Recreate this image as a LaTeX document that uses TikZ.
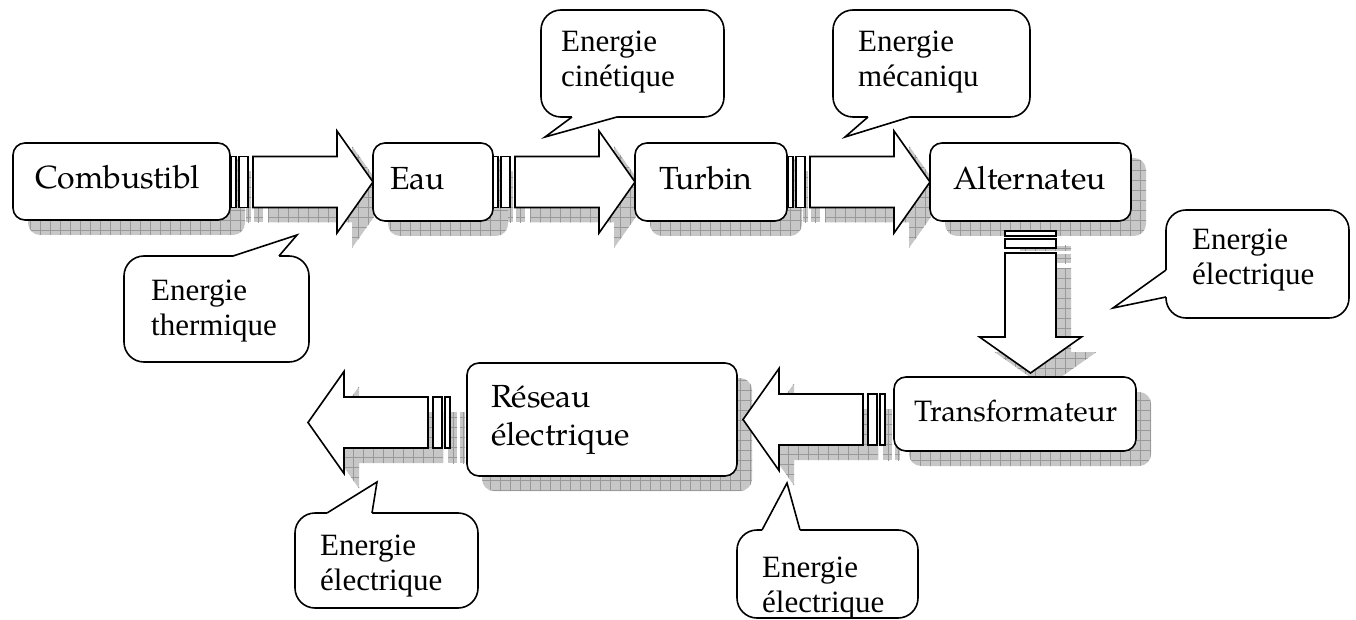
\documentclass[tikz,border=0pt]{standalone}
\usepackage{fontspec}
\setmainfont{TeX Gyre Pagella}
\newfontfamily\tms{Liberation Serif}
\pgfdeclarelayer{shadow}
\pgfsetlayers{shadow,main}
\tikzset{
 boxstyle/.style={draw, fill=white, line width=1.6pt, rounded corners=12pt, align=left,
   inner ysep=0pt, outer sep=0pt, font=\fontsize{32}{38}\selectfont},
 arrowshape/.style={draw, fill=white, line width=1.6pt, line join=miter},
 shfill/.style={fill=black!22},
 shgrid/.style={draw=black!40, line width=0.7pt, step=10pt},
 callbox/.style={draw, fill=white, line width=1.6pt, rounded corners=20pt},
 calltail/.style={draw, line width=1.6pt, line join=miter},
 tailfill/.style={fill=white},
 ctext/.style={anchor=base west, inner sep=0pt, text width=175pt, align=left,
   font=\tms\fontsize{31}{35}\selectfont},
}
\newcommand{\arrowparts}[1]{%
 #1{(-36,51) -- (0,0) -- (-36,-51) -- (-36,-25.5) -- (-120,-25.5) -- (-120,25.5) -- (-36,25.5) -- cycle}%
 #1{(-134,-25.5) rectangle (-125,25.5)}%
 #1{(-142,-25.5) rectangle (-137,25.5)}}
\newcommand{\drawpart}[1]{\path[arrowshape] #1;}
\newcommand{\shadowpart}[1]{\fill[shfill] #1; \begin{scope}\clip #1; \draw[shgrid] (-160,-70) grid (20,70);\end{scope}}
\newcommand{\blockarrow}[2]{\begin{scope}[shift={#1}, rotate=#2]\arrowparts\drawpart\end{scope}}
\newcommand{\blockshadow}[2]{\begin{scope}[shift={#1}, rotate=#2]\arrowparts\shadowpart\end{scope}}
\newcommand{\boxshadow}[1]{%
 \fill[shfill, rounded corners=12pt] ([shift={(15,15)}]#1.south west) rectangle ([shift={(15,15)}]#1.north east);
 \begin{scope}\clip[rounded corners=12pt] ([shift={(15,15)}]#1.south west) rectangle ([shift={(15,15)}]#1.north east);
 \draw[shgrid] (0,0) grid (1400,700);\end{scope}}
\begin{document}
\begin{tikzpicture}[x=1pt, y=-1pt]
\useasboundingbox (0,0) rectangle (1356,620);
% boxes
\node[boxstyle, minimum width=217pt, minimum height=77pt, inner xsep=22pt, text width=173pt,
  text height=22pt, text depth=7pt] (comb) at (121.5,181.5) {Combustibl};
\node[boxstyle, minimum width=120pt, minimum height=78pt, inner xsep=17pt, text width=86pt,
  text height=22pt, text depth=7pt] (eau) at (433,182) {Eau};
\node[boxstyle, minimum width=152pt, minimum height=78pt, inner xsep=24pt, text width=104pt,
  text height=22pt, text depth=7pt] (turb) at (711,182) {Turbin};
\node[boxstyle, minimum width=201pt, minimum height=78pt, inner xsep=23pt, text width=155pt,
  text height=22pt, text depth=7pt] (alt) at (1030.5,182) {Alternateu};
\node[boxstyle, minimum width=242pt, minimum height=74pt, inner xsep=20pt, text width=202pt,
  text height=22pt, text depth=7pt, font=\fontsize{29.5}{35}\selectfont] (trans) at (1015,414) {Transformateur};
\node[boxstyle, minimum width=270pt, minimum height=113pt, inner xsep=24pt, text width=222pt]
  (res) at (602,419.5) {Réseau\\électrique};
% shadows
\begin{pgfonlayer}{shadow}
\boxshadow{comb}\boxshadow{eau}\boxshadow{turb}\boxshadow{alt}\boxshadow{trans}\boxshadow{res}
\blockshadow{([shift={(15,15)}]eau.west)}{0}
\blockshadow{([shift={(15,15)}]turb.west)}{0}
\blockshadow{([shift={(15,15)}]alt.west)}{0}
\blockshadow{([shift={(15,167)}]alt.south)}{-90}
\blockshadow{([shift={(21,15)}]res.east)}{180}
\blockshadow{([shift={(-144,18)}]res.west)}{180}
\end{pgfonlayer}
% block arrows
\blockarrow{(eau.west)}{0}
\blockarrow{(turb.west)}{0}
\blockarrow{(alt.west)}{0}
\blockarrow{([shift={(0,152)}]alt.south)}{-90}
\blockarrow{([shift={(6,0)}]res.east)}{180}
\blockarrow{([shift={(-159,3)}]res.west)}{180}
% callout 1 thermique
\draw[callbox] (124,256) rectangle (309,362);
\fill[tailfill] (233,256) -- (297,235) -- (279,256) -- (279,260) -- (233,260) -- cycle;
\draw[calltail] (233,256) -- (297,235) -- (279,256);
\node[ctext] (c1) at (151,300) {Energie\\thermique};
% callout 2 cinetique
\draw[callbox] (541,10) rectangle (724,117);
\fill[tailfill] (617,117) -- (545,137) -- (572,117) -- (572,113) -- (617,113) -- cycle;
\draw[calltail] (617,117) -- (545,137) -- (572,117);
\node[ctext] (c2) at (561,52) {Energie\\cinétique};
% callout 3 mecanique
\draw[callbox] (833,10) rectangle (1030,117);
\fill[tailfill] (910,117) -- (845,137) -- (868,117) -- (868,113) -- (910,113) -- cycle;
\draw[calltail] (910,117) -- (845,137) -- (868,117);
\node[ctext] (c3) at (858,52) {Energie\\mécaniqu};
% callout 4 electrique right
\draw[callbox] (1166,210) rectangle (1349,318);
\fill[tailfill] (1166,270) -- (1113,308) -- (1166,297) -- (1170,297) -- (1170,270) -- cycle;
\draw[calltail] (1166,270) -- (1113,308) -- (1166,297);
\node[ctext] (c4) at (1192,250) {Energie\\électrique};
% callout 5 electrique bottom left
\draw[callbox] (295,513) rectangle (478,608);
\fill[tailfill] (327,513) -- (377,482) -- (372,513) -- (372,517) -- (327,517) -- cycle;
\draw[calltail] (327,513) -- (377,482) -- (372,513);
\node[ctext] (c5) at (320,555) {Energie\\électrique};
% callout 6 electrique bottom middle
\draw[callbox] (737,530) rectangle (918,618);
\fill[tailfill] (762,530) -- (787,483) -- (800,530) -- (800,534) -- (762,534) -- cycle;
\draw[calltail] (762,530) -- (787,483) -- (800,530);
\node[ctext] (c6) at (762,577) {Energie\\électrique};
\end{tikzpicture}
\end{document}
